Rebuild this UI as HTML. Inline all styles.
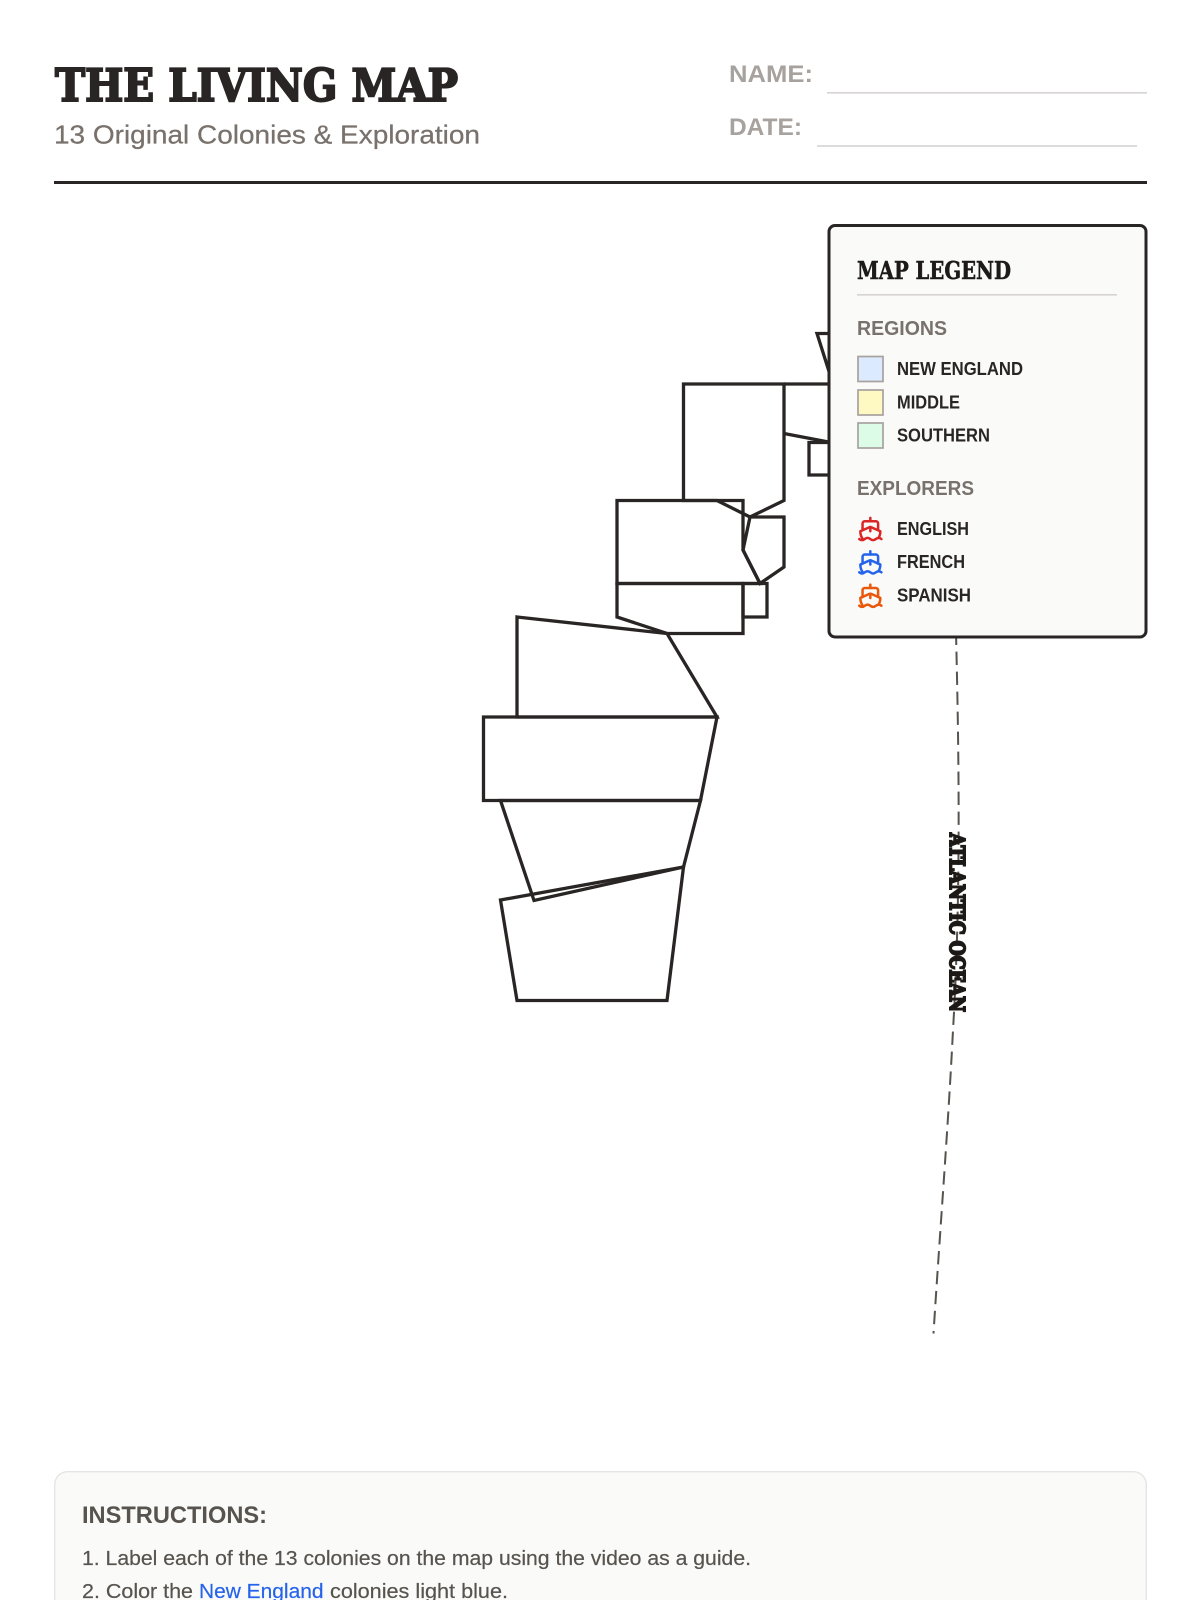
<!DOCTYPE html>
<html lang="en">
<head>
<meta charset="utf-8">
<title>The Living Map</title>
<style>
html,body{margin:0;padding:0;background:#fff;width:1200px;height:1600px;overflow:hidden}
svg{display:block}
.slab{font-family:"DejaVu Serif","Liberation Serif",serif;font-weight:700}
.sans{font-family:"Liberation Sans",sans-serif}
.b{font-weight:700}
.map polygon,.map polyline{fill:none;stroke:#292524;stroke-width:3.3;stroke-linejoin:miter}
.lg{font-size:18.5px;font-weight:700;fill:#292524}
.hd{font-size:20px;font-weight:700;fill:#78716c}
.ship path{fill:none;stroke-width:2.25;stroke-linecap:round;stroke-linejoin:round}
</style>
</head>
<body>
<svg width="1200" height="1600" viewBox="0 0 1200 1600" xmlns="http://www.w3.org/2000/svg">
<rect width="1200" height="1600" fill="#fff"/>

<text class="slab" x="55" y="101" font-size="44.5" fill="#292524" stroke="#292524" stroke-width="2" textLength="403" lengthAdjust="spacingAndGlyphs">THE LIVING MAP</text>
<text class="sans" x="54" y="143.7" font-size="26" fill="#78716c" stroke="#78716c" stroke-width=".25" textLength="426" lengthAdjust="spacingAndGlyphs">13 Original Colonies &amp; Exploration</text>
<text class="sans b" x="729" y="82" font-size="24.5" fill="#a8a29e" textLength="84" lengthAdjust="spacingAndGlyphs">NAME:</text>
<text class="sans b" x="729" y="135" font-size="24.5" fill="#a8a29e" textLength="73" lengthAdjust="spacingAndGlyphs">DATE:</text>
<rect x="827" y="92" width="320" height="1.6" fill="#d6d3d1"/>
<rect x="817" y="145.2" width="320" height="1.6" fill="#d6d3d1"/>
<rect x="54" y="181" width="1093" height="3" fill="#292524"/>

<g class="map">
  <polygon points="683.5,384 784,384 784,500.5 750,517 717,500.5 683.5,500.5"/>
  <polygon points="617,500.5 743,500.5 743,550 760,583.5 617,583.5"/>
  <polygon points="750,517 784,517 784,567 760,583.5 743,550"/>
  <polygon points="617,583.5 743,583.5 743,633.5 667,633.5 617,617"/>
  <polygon points="743,583.5 767,583.5 767,617 743,617"/>
  <polygon points="517,617 667,633.5 717,717 517,717"/>
  <polygon points="483.5,717 717,717 700.5,800.5 483.5,800.5"/>
  <polygon points="500.5,800.5 700.5,800.5 683.5,867 534,900.5"/>
  <polygon points="500.5,900 683.5,867 667,1000.5 517,1000.5"/>
  <polyline points="860,333.5 817,333.5 833,384"/>
  <polyline points="784,384 860,384"/>
  <polyline points="784,433.5 860,448"/>
  <polyline points="860,442.5 809,442.5 809,475 860,475"/>
</g>

<path d="M956,631.7 C958,720 962,880 953,1030 C948,1130 940,1230 933.5,1333.5" fill="none" stroke="#57534e" stroke-width="2" stroke-dasharray="13.33 6.67"/>

<text class="slab" transform="translate(950,833) rotate(90)" font-size="20.5" fill="#1c1917" stroke="#1c1917" stroke-width="2" textLength="179" lengthAdjust="spacingAndGlyphs">ATLANTIC OCEAN</text>

<rect x="829" y="225.5" width="317" height="411.5" rx="6" ry="6" fill="#fafaf9" stroke="#292524" stroke-width="3"/>
<text class="slab" x="857" y="279" font-size="24" fill="#1c1917" stroke="#1c1917" stroke-width=".5" textLength="154" lengthAdjust="spacingAndGlyphs">MAP LEGEND</text>
<rect x="857" y="294" width="260" height="1.6" fill="#d6d3d1"/>

<text class="sans hd" x="857" y="335" textLength="90" lengthAdjust="spacingAndGlyphs">REGIONS</text>
<rect x="858" y="356.5" width="25" height="25" fill="#dbeafe" stroke="#a8a29e" stroke-width="1.7"/>
<rect x="858" y="390" width="25" height="25" fill="#fef9c3" stroke="#a8a29e" stroke-width="1.7"/>
<rect x="858" y="423" width="25" height="25" fill="#dcfce7" stroke="#a8a29e" stroke-width="1.7"/>
<text class="sans lg" x="897" y="375" textLength="126" lengthAdjust="spacingAndGlyphs">NEW ENGLAND</text>
<text class="sans lg" x="897" y="408.3" textLength="63" lengthAdjust="spacingAndGlyphs">MIDDLE</text>
<text class="sans lg" x="897" y="441.7" textLength="93" lengthAdjust="spacingAndGlyphs">SOUTHERN</text>

<text class="sans hd" x="857" y="495" textLength="117" lengthAdjust="spacingAndGlyphs">EXPLORERS</text>
<g class="ship" stroke="#dc2626" transform="translate(857,515.7) scale(1.111)">
  <path d="M12 10.189V14"/><path d="M12 2v3"/><path d="M19 13V7a2 2 0 0 0-2-2H7a2 2 0 0 0-2 2v6"/><path d="M19.38 20A11.6 11.6 0 0 0 21 14l-8.188-3.639a2 2 0 0 0-1.624 0L3 14a11.6 11.6 0 0 0 2.81 7.76"/><path d="M2 21c.6.5 1.2 1 2.5 1 2.5 0 2.5-2 5-2 1.3 0 1.9.5 2.5 1s1.2 1 2.5 1c2.5 0 2.5-2 5-2 1.3 0 1.9.5 2.5 1"/>
</g>
<g class="ship" stroke="#2563eb" transform="translate(857,549) scale(1.111)">
  <path d="M12 10.189V14"/><path d="M12 2v3"/><path d="M19 13V7a2 2 0 0 0-2-2H7a2 2 0 0 0-2 2v6"/><path d="M19.38 20A11.6 11.6 0 0 0 21 14l-8.188-3.639a2 2 0 0 0-1.624 0L3 14a11.6 11.6 0 0 0 2.81 7.76"/><path d="M2 21c.6.5 1.2 1 2.5 1 2.5 0 2.5-2 5-2 1.3 0 1.9.5 2.5 1s1.2 1 2.5 1c2.5 0 2.5-2 5-2 1.3 0 1.9.5 2.5 1"/>
</g>
<g class="ship" stroke="#ea580c" transform="translate(857,582.4) scale(1.111)">
  <path d="M12 10.189V14"/><path d="M12 2v3"/><path d="M19 13V7a2 2 0 0 0-2-2H7a2 2 0 0 0-2 2v6"/><path d="M19.38 20A11.6 11.6 0 0 0 21 14l-8.188-3.639a2 2 0 0 0-1.624 0L3 14a11.6 11.6 0 0 0 2.81 7.76"/><path d="M2 21c.6.5 1.2 1 2.5 1 2.5 0 2.5-2 5-2 1.3 0 1.9.5 2.5 1s1.2 1 2.5 1c2.5 0 2.5-2 5-2 1.3 0 1.9.5 2.5 1"/>
</g>
<text class="sans lg" x="897" y="535" textLength="72" lengthAdjust="spacingAndGlyphs">ENGLISH</text>
<text class="sans lg" x="897" y="568" textLength="68" lengthAdjust="spacingAndGlyphs">FRENCH</text>
<text class="sans lg" x="897" y="601.7" textLength="74" lengthAdjust="spacingAndGlyphs">SPANISH</text>

<rect x="54.7" y="1471.7" width="1091.6" height="170" rx="13" ry="13" fill="#fafaf9" stroke="#e7e5e4" stroke-width="1.4"/>
<text class="sans b" x="82" y="1523" font-size="24" fill="#57534e" textLength="185" lengthAdjust="spacingAndGlyphs">INSTRUCTIONS:</text>
<text class="sans" x="82" y="1565" font-size="20.5" fill="#57534e" stroke="#57534e" stroke-width=".2" textLength="669" lengthAdjust="spacingAndGlyphs">1. Label each of the 13 colonies on the map using the video as a guide.</text>
<text class="sans" x="82" y="1598" font-size="20.5" fill="#57534e" stroke="#57534e" stroke-width=".2" textLength="111" lengthAdjust="spacingAndGlyphs">2. Color the</text>
<text class="sans" x="199" y="1598" font-size="20.5" fill="#2563eb" stroke="#2563eb" stroke-width=".2" textLength="124.5" lengthAdjust="spacingAndGlyphs">New England</text>
<text class="sans" x="330" y="1598" font-size="20.5" fill="#57534e" stroke="#57534e" stroke-width=".2" textLength="178" lengthAdjust="spacingAndGlyphs">colonies light blue.</text>
</svg>
</body>
</html>
